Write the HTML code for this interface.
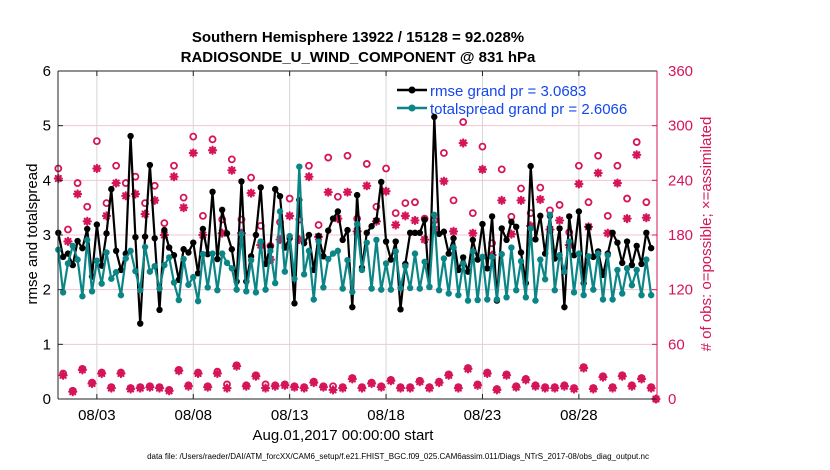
<!DOCTYPE html>
<html><head><meta charset="utf-8">
<style>
html,body{margin:0;padding:0;background:#fff;width:830px;height:470px;overflow:hidden;font-family:"Liberation Sans",Arial,sans-serif;}
svg text{font-family:"Liberation Sans",Arial,sans-serif;}
</style></head>
<body>
<svg id="chart" width="830" height="470" viewBox="0 0 830 470">
<text x="358" y="42" font-size="15" font-weight="bold" text-anchor="middle">Southern Hemisphere 13922 / 15128 = 92.028%</text>
<text x="358" y="62" font-size="15" font-weight="bold" text-anchor="middle">RADIOSONDE_U_WIND_COMPONENT @ 831 hPa</text>
<g id="grid"></g>
<g id="obs"></g>
<g id="lines"></g>
<g id="axes"></g>
<text transform="translate(37,234) rotate(-90)" font-size="15" text-anchor="middle">rmse and totalspread</text>
<text transform="translate(711,234) rotate(-90)" font-size="15" fill="#d6145a" text-anchor="middle"># of obs: o=possible; ×=assimilated</text>
<text x="343" y="440" font-size="15" text-anchor="middle">Aug.01,2017 00:00:00 start</text>
<text x="398" y="459" font-size="8" text-anchor="middle">data file: /Users/raeder/DAI/ATM_forcXX/CAM6_setup/f.e21.FHIST_BGC.f09_025.CAM6assim.011/Diags_NTrS_2017-08/obs_diag_output.nc</text>
<g>
<line x1="397" y1="90" x2="427" y2="90" stroke="#000" stroke-width="2.5"/>
<circle cx="412" cy="90" r="3.5" fill="#000"/>
<text x="430" y="96" font-size="15" fill="#1446f0">rmse grand pr = 3.0683</text>
<line x1="397" y1="108" x2="427" y2="108" stroke="#0b8585" stroke-width="2.5"/>
<circle cx="412" cy="108" r="3.5" fill="#0b8585"/>
<text x="430" y="114" font-size="15" fill="#1446f0">totalspread grand pr = 2.6066</text>
</g>
</svg>
<script>
const rmse = [3.04,2.6,2.66,2.45,2.89,2.76,3.11,2.24,3.19,2.44,3.03,3.84,2.71,2.36,2.66,4.81,2.96,1.38,2.97,4.28,2.94,1.63,3.09,2.77,2.63,2.18,2.74,2.68,2.86,2.3,3.11,2.65,3.79,
2.56,3.46,3.03,2.74,2.15,3.98,2.15,2.61,3.0,3.87,2.47,2.79,3.84,3.71,2.77,2.94,1.75,3.64,2.85,3.0,2.36,2.98,2.61,3.08,3.3,3.43,2.91,3.09,1.68,3.73,2.4,
3.04,3.16,3.27,3.97,2.88,2.55,2.88,1.64,2.47,3.04,3.04,3.04,3.28,2.05,5.16,3.02,3.06,2.66,2.94,2.36,2.59,2.33,2.91,2.55,3.2,2.39,3.34,1.8,3.12,2.91,3.24,
3.15,2.68,2.12,4.26,2.92,3.35,2.66,3.35,2.57,3.12,1.68,3.34,2.63,3.43,2.12,3.15,2.6,2.7,2.27,2.66,3.04,2.86,2.49,2.88,2.45,2.8,2.47,3.04,2.76];
const totalspread = [2.73,1.95,2.48,2.8,2.55,1.88,2.91,1.97,2.53,2.11,2.68,2.2,2.32,1.9,2.57,2.71,2.34,1.99,2.78,2.33,2.43,2.02,2.45,2.59,2.13,1.81,2.56,2.09,2.23,1.79,2.65,2.04,2.66,
1.99,2.66,2.49,2.39,2.0,3.02,1.97,2.54,1.95,2.88,2.0,2.71,2.12,3.43,2.33,2.98,2.2,4.25,2.28,2.71,1.82,2.88,2.04,2.56,2.66,2.71,2.02,2.54,1.96,3.2,2.36,
2.86,2.02,2.91,2.0,2.48,2.0,2.7,2.03,2.43,2.03,2.66,2.02,2.51,2.05,3.37,1.99,2.57,1.93,2.77,1.9,2.48,1.8,2.7,1.81,2.6,1.82,2.6,1.82,2.65,1.86,2.77,
1.99,2.52,1.86,3.12,1.8,2.55,2.19,3.37,1.99,2.63,2.33,2.88,1.95,2.66,1.9,2.61,2.0,2.66,1.82,2.63,1.82,2.36,1.93,2.39,2.08,2.36,1.9,2.55,1.9];
const possibleMain = [253,186,237,211,283,215,256,237,244,215,234,193,256,221,288,201,285,
197,263,197,243,190,168,194,220,197,256,191,265,222,267,198,
258,211,253,204,215,216,198,196,270,218,304,204,277,171,252,200,
231,204,232,207,213,183,256,216,267,201,256,220,282,216,0];
const assimMain = [242,173,225,195,253,201,237,223,225,203,218,180,244,210,270,180,273,
182,251,182,226,169,153,175,201,175,244,178,227,198,227,184,
234,195,228,191,201,196,175,186,239,184,281,182,252,158,218,181,
218,190,219,186,196,169,236,189,248,182,237,198,268,199,0];
const possibleOff = [28,9,33,18,29,13,29,12,13,14,13,10,32,15,29,14,
30,16,37,15,26,16,15,16,14,13,19,14,14,13,23,13,
18,14,21,13,13,20,13,19,27,13,34,16,29,11,27,
14,22,15,13,13,15,12,35,12,25,13,26,15,23,13];
const assimOff = [26,8,32,17,28,12,28,11,12,13,12,9,31,14,28,13,
28,12,36,14,25,12,14,15,13,12,18,13,10,12,22,12,
17,13,20,12,12,19,12,18,26,12,33,15,28,10,26,
13,21,14,12,12,14,11,34,11,24,12,25,14,22,12];
const xTickDays = [2,7,12,17,22,27];
const xTickLabels = ["08/03","08/08","08/13","08/18","08/23","08/28"];
const yLeftTicks = [0,1,2,3,4,5,6];
const yRightTicks = [0,60,120,180,240,300,360];

const NS = "http://www.w3.org/2000/svg";
const L = 58, R = 657, T = 71, B = 399;
const stepDays = 0.25;
function xScale(day){ return L + 0.3 + day * 19.28; }
function yLeft(v){ return B - (v / 6) * (B - T); }
function yRight(v){ return B - (v / 360) * (B - T); }
function mk(tag, attrs, parent){
  const e = document.createElementNS(NS, tag);
  for (const k in attrs) e.setAttribute(k, attrs[k]);
  parent.appendChild(e); return e;
}
const grid = document.getElementById('grid');
const axes = document.getElementById('axes');
const obsG = document.getElementById('obs');
const linesG = document.getElementById('lines');

yRightTicks.forEach((v,i)=>{
  const y = yRight(v);
  if (i>0 && i<yRightTicks.length-1) {
    const g = mk('line',{x1:L,x2:R,y1:y,y2:y,stroke:'#f2c6d6','stroke-width':1},grid);
    
    
  }
  mk('line',{x1:R-5,x2:R,y1:y,y2:y,stroke:'#d6145a','stroke-width':1},axes);
  const t = mk('text',{x:R+11,y:y+5,'font-size':15,fill:'#d6145a'},axes);
  t.textContent = v;
  
  
});
xTickDays.forEach((d,i)=>{
  const x = xScale(d);
  const g = mk('line',{x1:x,x2:x,y1:T,y2:B,stroke:'#d6d6d6','stroke-width':1},grid);
  
  
  mk('line',{x1:x,x2:x,y1:B,y2:B-5,stroke:'#222'},axes);
  mk('line',{x1:x,x2:x,y1:T,y2:T+5,stroke:'#222'},axes);
  const t = mk('text',{x:x,y:420,'font-size':15,'text-anchor':'middle'},axes);
  t.textContent = xTickLabels[i];
  
  
});
yLeftTicks.forEach(v=>{
  const y = yLeft(v);
  mk('line',{x1:L,x2:L+5,y1:y,y2:y,stroke:'#222'},axes);
  const t = mk('text',{x:L-7,y:y+5,'font-size':15,'text-anchor':'end'},axes);
  t.textContent = v;
  
  
});
mk('line',{x1:L,x2:L,y1:T,y2:B,stroke:'#222','stroke-width':1},axes);
mk('line',{x1:L,x2:R,y1:T,y2:T,stroke:'#222'},axes);
mk('line',{x1:L,x2:R,y1:B,y2:B,stroke:'#222'},axes);
mk('line',{x1:R,x2:R,y1:T,y2:B,stroke:'#d6145a'},axes);

const MAG = '#d6145a';
function star(x,y){
  const g = mk('g',{stroke:MAG,'stroke-width':2.2,'stroke-linecap':'round'},obsG);
  
  
  const r=3.5;
  mk('line',{x1:x-r,x2:x+r,y1:y,y2:y},g);
  mk('line',{x1:x,x2:x,y1:y-r,y2:y+r},g);
  mk('line',{x1:x-r*0.72,x2:x+r*0.72,y1:y-r*0.72,y2:y+r*0.72},g);
  mk('line',{x1:x-r*0.72,x2:x+r*0.72,y1:y+r*0.72,y2:y-r*0.72},g);
}
function circ(x,y){
  const c = mk('circle',{cx:x,cy:y,r:3,fill:'#fff',stroke:MAG,'stroke-width':1.8},obsG);
  
  
}
const nSteps = possibleMain.length + possibleOff.length;
for (let i=0;i<nSteps;i++){
  const main = i%2===0, k = Math.floor(i/2);
  const p = main ? possibleMain[k] : possibleOff[k];
  const a = main ? assimMain[k] : assimOff[k];
  const x = xScale(i*stepDays);
  circ(x, yRight(p));
  star(x, yRight(a));
}

function series(vals,color,name){
  const pts = vals.map((v,i)=>xScale(i*stepDays).toFixed(1)+','+yLeft(v).toFixed(1)).join(' ');
  const pl = mk('polyline',{points:pts,fill:'none',stroke:color,'stroke-width':2.2,'stroke-linejoin':'round'},linesG);
  
  
  vals.forEach((v,i)=>{
    const c = mk('circle',{cx:xScale(i*stepDays),cy:yLeft(v),r:3.2,fill:color},linesG);
    
    
  });
}
series(rmse,'#000','rmse');
series(totalspread,'#0b8585','totalspread');
</script>
</body></html>
